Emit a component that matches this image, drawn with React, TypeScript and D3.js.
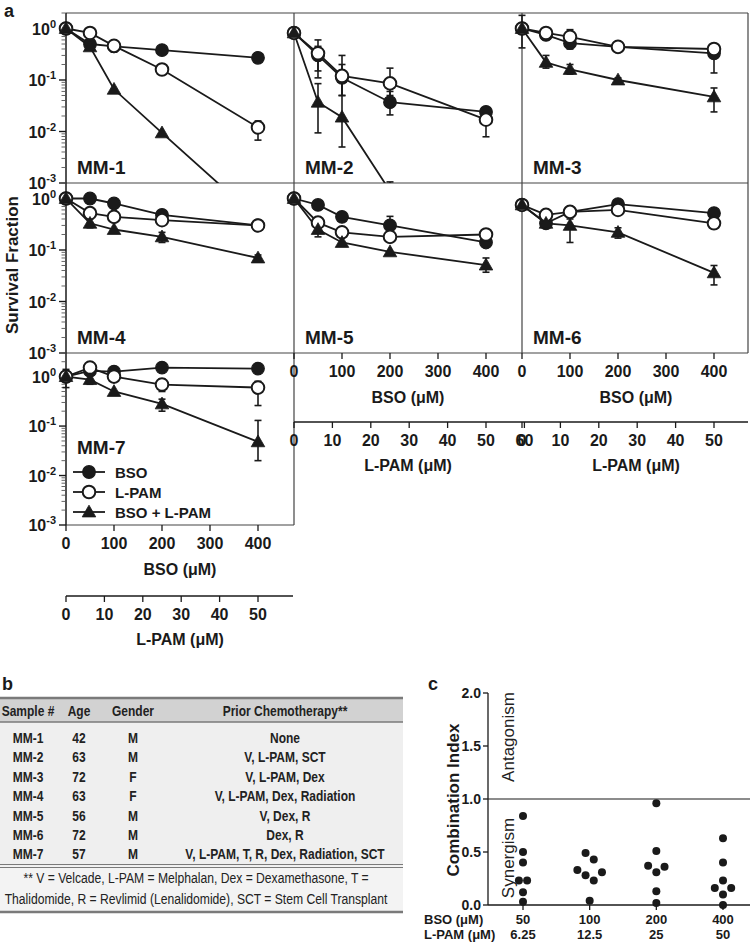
import React from "react";
import * as d3 from "d3";

// ---------- Panel a data ----------
const BSO_DOSES = [0, 50, 100, 200, 400];
const BSO_TICKS = [0, 100, 200, 300, 400];
const LPAM_TICKS_SHORT = [0, 10, 20, 30, 40, 50];
const LPAM_TICKS_LONG = [0, 10, 20, 30, 40, 50, 60];
const Y_DECADES = [0, -1, -2, -3];
const SAMPLE_IDS = ["MM-1", "MM-2", "MM-3", "MM-4", "MM-5", "MM-6", "MM-7"];
const LEGEND_LABELS = ["BSO", "L-PAM", "BSO + L-PAM"];

type Err = [number, number] | null;

const MM1_BSO = [1.0, 0.5, 0.45, 0.38, 0.27];
const MM1_LPAM = [1.0, 0.82, 0.46, 0.16, 0.012];
const MM1_COMBO = [1.0, 0.44, 0.066, 0.0094, 0.0002];
const MM1_BSO_ERR: Err[] = [null, null, null, [0.33, 0.43], [0.24, 0.3]];
const MM1_LPAM_ERR: Err[] = [null, null, [0.35, 0.52], [0.13, 0.19], [0.0068, 0.016]];
const MM1_COMBO_ERR: Err[] = [null, null, null, null, null];

const MM2_BSO = [0.82, 0.3, 0.11, 0.037, 0.024];
const MM2_LPAM = [0.82, 0.33, 0.12, 0.086, 0.017];
const MM2_COMBO = [0.82, 0.037, 0.019, 0.0007, null];
const MM2_BSO_ERR: Err[] = [null, [0.15, 0.45], [0.05, 0.2], [0.021, 0.06], [0.02, 0.028]];
const MM2_LPAM_ERR: Err[] = [null, [0.11, 0.6], [0.05, 0.3], [0.05, 0.17], [0.0079, 0.022]];
const MM2_COMBO_ERR: Err[] = [null, [0.0094, 0.085], [0.005, 0.1], [0.0002, 0.00105], null];

const MM3_BSO = [1.0, 0.75, 0.52, 0.44, 0.33];
const MM3_LPAM = [1.0, 0.82, 0.69, 0.44, 0.4];
const MM3_COMBO = [1.0, 0.22, 0.16, 0.1, 0.047];
const MM3_BSO_ERR: Err[] = [null, null, [0.4, 0.6], null, [0.137, 0.4]];
const MM3_LPAM_ERR: Err[] = [[0.42, 1.8], [0.6, 1.0], [0.45, 0.95], null, null];
const MM3_COMBO_ERR: Err[] = [null, [0.17, 0.3], [0.13, 0.2], [0.09, 0.11], [0.024, 0.07]];

const MM4_BSO = [1.0, 1.0, 0.8, 0.48, 0.3];
const MM4_LPAM = [1.0, 0.52, 0.44, 0.38, 0.3];
const MM4_COMBO = [1.0, 0.33, 0.25, 0.18, 0.07];
const MM4_BSO_ERR: Err[] = [null, null, null, null, null];
const MM4_LPAM_ERR: Err[] = [null, null, null, [0.32, 0.45], null];
const MM4_COMBO_ERR: Err[] = [null, [0.27, 0.4], null, [0.14, 0.22], [0.06, 0.08]];

const MM5_BSO = [1.0, 0.75, 0.44, 0.3, 0.14];
const MM5_LPAM = [1.0, 0.34, 0.22, 0.18, 0.2];
const MM5_COMBO = [1.0, 0.25, 0.14, 0.092, 0.051];
const MM5_BSO_ERR: Err[] = [null, null, null, [0.2, 0.45], null];
const MM5_LPAM_ERR: Err[] = [null, null, null, null, null];
const MM5_COMBO_ERR: Err[] = [null, [0.18, 0.3], null, null, [0.037, 0.07]];

const MM6_BSO = [0.75, 0.33, 0.55, 0.78, 0.52];
const MM6_LPAM = [0.75, 0.48, 0.55, 0.6, 0.33];
const MM6_COMBO = [0.75, 0.33, 0.3, 0.22, 0.036];
const MM6_BSO_ERR: Err[] = [null, null, null, null, null];
const MM6_LPAM_ERR: Err[] = [null, null, null, null, null];
const MM6_COMBO_ERR: Err[] = [null, null, [0.14, 0.4], [0.17, 0.27], [0.021, 0.05]];

const MM7_BSO = [1.0, 1.3, 1.26, 1.52, 1.45];
const MM7_LPAM = [1.0, 1.52, 1.0, 0.69, 0.6];
const MM7_COMBO = [1.0, 0.87, 0.5, 0.28, 0.048];
const MM7_BSO_ERR: Err[] = [null, null, null, null, null];
const MM7_LPAM_ERR: Err[] = [null, null, null, [0.5, 0.9], [0.26, 0.8]];
const MM7_COMBO_ERR: Err[] = [[0.6, 1.4], [0.7, 1.1], null, [0.2, 0.35], [0.02, 0.13]];

// ---------- Panel b data ----------
const TABLE_HEAD = ["Sample #", "Age", "Gender", "Prior Chemotherapy**"];
const AGES = [42, 63, 72, 63, 56, 72, 57];
const GENDERS = ["M", "M", "F", "F", "M", "M", "M"];
const CHEMO = [
  "None",
  "V, L-PAM, SCT",
  "V, L-PAM, Dex",
  "V, L-PAM, Dex, Radiation",
  "V, Dex, R",
  "Dex, R",
  "V, L-PAM, T, R, Dex, Radiation, SCT",
];
const FOOTNOTE = [
  "** V = Velcade, L-PAM = Melphalan, Dex = Dexamethasone, T =",
  "Thalidomide, R = Revlimid (Lenalidomide), SCT = Stem Cell Transplant",
];

// ---------- Panel c data ----------
const CI_CATEGORIES = ["50", "100", "200", "400"];
const CI_LPAM_LABELS = ["6.25", "12.5", "25", "50"];
const CI_50 = [0.84, 0.5, 0.4, 0.23, 0.23, 0.12, 0.03];
const CI_100 = [0.49, 0.43, 0.33, 0.31, 0.28, 0.23, 0.04];
const CI_200 = [0.96, 0.51, 0.37, 0.36, 0.31, 0.13, 0.02];
const CI_400 = [0.63, 0.4, 0.23, 0.16, 0.16, 0.1, 0.0];
const CI_TICKS = [0, 0.5, 1, 1.5, 2];

// ---------- layout ----------
const FONT = "'Liberation Sans', Arial, Helvetica, sans-serif";
const INK = "#1a1a1a";
const COL_X = [66, 294, 522];
const COL_W = 228;
const ROW_Y = [13, 183, 353];
const ROW_H = [170, 170, 172];
const ROW_TOP = [2, 2, 3];

const PANELS = [
  { id: 0, col: 0, row: 0, bso: MM1_BSO, lpam: MM1_LPAM, combo: MM1_COMBO, eb: MM1_BSO_ERR, el: MM1_LPAM_ERR, ec: MM1_COMBO_ERR },
  { id: 1, col: 1, row: 0, bso: MM2_BSO, lpam: MM2_LPAM, combo: MM2_COMBO, eb: MM2_BSO_ERR, el: MM2_LPAM_ERR, ec: MM2_COMBO_ERR },
  { id: 2, col: 2, row: 0, bso: MM3_BSO, lpam: MM3_LPAM, combo: MM3_COMBO, eb: MM3_BSO_ERR, el: MM3_LPAM_ERR, ec: MM3_COMBO_ERR },
  { id: 3, col: 0, row: 1, bso: MM4_BSO, lpam: MM4_LPAM, combo: MM4_COMBO, eb: MM4_BSO_ERR, el: MM4_LPAM_ERR, ec: MM4_COMBO_ERR },
  { id: 4, col: 1, row: 1, bso: MM5_BSO, lpam: MM5_LPAM, combo: MM5_COMBO, eb: MM5_BSO_ERR, el: MM5_LPAM_ERR, ec: MM5_COMBO_ERR },
  { id: 5, col: 2, row: 1, bso: MM6_BSO, lpam: MM6_LPAM, combo: MM6_COMBO, eb: MM6_BSO_ERR, el: MM6_LPAM_ERR, ec: MM6_COMBO_ERR },
  { id: 6, col: 0, row: 2, bso: MM7_BSO, lpam: MM7_LPAM, combo: MM7_COMBO, eb: MM7_BSO_ERR, el: MM7_LPAM_ERR, ec: MM7_COMBO_ERR },
];

const xScaleFor = (col: number) =>
  d3.scaleLinear().domain([0, 475]).range([COL_X[col], COL_X[col] + COL_W]);
const yScaleFor = (row: number) =>
  d3.scaleLog().domain([1e-3, ROW_TOP[row]]).range([ROW_Y[row] + ROW_H[row], ROW_Y[row]]);

const triPath = d3.symbol().type(d3.symbolTriangle).size(80)() as string;

function Marker({ kind, x, y }: { kind: number; x: number; y: number }) {
  if (kind === 0) return <circle cx={x} cy={y} r={6.3} fill={INK} stroke={INK} strokeWidth={1.2} />;
  if (kind === 1) return <circle cx={x} cy={y} r={6.3} fill="#fff" stroke={INK} strokeWidth={2} />;
  return <path d={triPath} transform={`translate(${x},${y + 1})`} fill={INK} stroke={INK} strokeWidth={0.8} />;
}

function NText({ x, y, bold, children }: { x: number; y: number; bold?: boolean; children: React.ReactNode }) {
  return (
    <text
      transform={`translate(${x},${y}) scale(${bold ? 0.8 : 0.81},1)`}
      textAnchor="middle"
      fontWeight={bold ? "bold" : "normal"}
      fontSize={15}
      fill="#222"
    >
      {children}
    </text>
  );
}

function Panel({ p }: { p: (typeof PANELS)[number] }) {
  const xs = xScaleFor(p.col);
  const ys = yScaleFor(p.row);
  const y0 = ROW_Y[p.row];
  const h = ROW_H[p.row];
  const x0 = COL_X[p.col];
  const series = [p.bso, p.lpam, p.combo];
  const errs = [p.eb, p.el, p.ec];
  const clipId = `clip-${p.id}`;
  const line = d3
    .line<number | null>()
    .defined((d) => d != null)
    .x((_, i) => xs(BSO_DOSES[i]))
    .y((d) => ys(d as number));
  const ymin = 1e-3;
  return (
    <g>
      <clipPath id={clipId}>
        <rect x={x0 - 14} y={y0 - 14} width={COL_W + 28} height={h + 14} />
      </clipPath>
      <g clipPath={`url(#${clipId})`}>
        {series.map((s, k) => (
          <path key={k} d={line(s) || ""} fill="none" stroke={INK} strokeWidth={1.8} />
        ))}
        {errs.map((e, k) =>
          e.map((b, i) => {
            if (!b) return null;
            const x = xs(BSO_DOSES[i]);
            const ya = ys(Math.max(b[0], 1e-4));
            const yb = ys(b[1]);
            return (
              <g key={`${k}-${i}`} stroke={INK} strokeWidth={1.6}>
                <line x1={x} x2={x} y1={ya} y2={yb} />
                {b[0] >= ymin && <line x1={x - 3.5} x2={x + 3.5} y1={ya} y2={ya} />}
                <line x1={x - 3.5} x2={x + 3.5} y1={yb} y2={yb} />
              </g>
            );
          })
        )}
        {series.map((s, k) =>
          s.map((v, i) =>
            v == null || v < ymin ? null : <Marker key={`${k}-${i}`} kind={k} x={xs(BSO_DOSES[i])} y={ys(v)} />
          )
        )}
      </g>
      <text
        x={x0 + 11}
        y={y0 + h - (p.row === 2 ? 71 : 9)}
        fontSize={19}
        fontWeight="bold"
        fill={INK}
      >
        {SAMPLE_IDS[p.id]}
      </text>
    </g>
  );
}

function YAxis({ row }: { row: number }) {
  const ys = yScaleFor(row);
  const x = COL_X[0];
  const minors: number[] = [];
  for (let e = -3; e <= 0; e++) {
    for (let m = 2; m <= 9; m++) {
      const v = m * Math.pow(10, e);
      if (v <= ROW_TOP[row]) minors.push(v);
    }
  }
  return (
    <g>
      {minors.map((v, i) => (
        <line key={i} x1={x - 4.5} x2={x} y1={ys(v)} y2={ys(v)} stroke="#555" strokeWidth={0.9} />
      ))}
      {Y_DECADES.map((e) => {
        const y = ys(Math.pow(10, e));
        return (
          <g key={e}>
            <line x1={x - 7} x2={x} y1={y} y2={y} stroke={INK} strokeWidth={1.4} />
            <text x={x - 10} y={y + 6} textAnchor="end" fontSize={16} fontWeight="bold" fill={INK}>
              10
              <tspan dy={-7} fontSize={11}>
                {e === 0 ? "0" : `-${-e}`}
              </tspan>
            </text>
          </g>
        );
      })}
    </g>
  );
}

function BsoAxis({ col, yb }: { col: number; yb: number }) {
  const xs = xScaleFor(col);
  return (
    <g fill={INK} fontWeight="bold">
      {BSO_TICKS.map((t) => (
        <g key={t}>
          <line x1={xs(t)} x2={xs(t)} y1={yb} y2={yb + 6} stroke={INK} strokeWidth={1.3} />
          <text x={xs(t)} y={yb + 24} textAnchor="middle" fontSize={16}>
            {t}
          </text>
        </g>
      ))}
      <text x={COL_X[col] + COL_W / 2} y={yb + 50} textAnchor="middle" fontSize={16}>
        BSO (μM)
      </text>
    </g>
  );
}

function LpamTicks({ col, yl, ticks }: { col: number; yl: number; ticks: number[] }) {
  const xs = xScaleFor(col);
  const lx = (v: number) => xs(v * 8);
  return (
    <g fill={INK} fontWeight="bold">
      {ticks.map((t) => (
        <g key={t}>
          <line x1={lx(t)} x2={lx(t)} y1={yl} y2={yl + 6} stroke={INK} strokeWidth={1.3} />
          <text x={lx(t)} y={yl + 24} textAnchor="middle" fontSize={16}>
            {t}
          </text>
        </g>
      ))}
      <text x={COL_X[col] + COL_W / 2} y={yl + 49} textAnchor="middle" fontSize={16}>
        L-PAM (μM)
      </text>
    </g>
  );
}

function swarmOffsets(values: number[], step: number, thr: number) {
  const idx = values.map((_, i) => i).sort((a, b) => values[b] - values[a]);
  const clusters: number[][] = [];
  let cur: number[] = [];
  idx.forEach((i, k) => {
    if (k > 0 && values[idx[k - 1]] - values[i] < thr) cur.push(i);
    else {
      if (cur.length) clusters.push(cur);
      cur = [i];
    }
  });
  if (cur.length) clusters.push(cur);
  const off = values.map(() => 0);
  clusters.forEach((c) => {
    const n = c.length;
    const slots = d3.range(n).map((j) => (j - (n - 1) / 2) * step);
    let lo = 0;
    let hi = n - 1;
    c.forEach((i, j) => {
      off[i] = j % 2 === 0 ? slots[lo++] : slots[hi--];
    });
  });
  return off;
}

export default function App() {
  const frameStroke = "#444";
  const rowBottom = (r: number) => ROW_Y[r] + ROW_H[r];

  // panel c scales
  const ciX = d3.scalePoint<string>().domain(CI_CATEGORIES).range([523, 723]);
  const ciY = d3.scaleLinear().domain([0, 2]).range([905, 693]);
  const ciGroups = [CI_50, CI_100, CI_200, CI_400];
  const ciLeft = 488;
  const ciRight = 750;

  // table layout
  const tX0 = 0;
  const tX1 = 403;
  const colCenters = [28, 79, 133, 285];
  const tTop = 698;
  const headBottom = 722;
  const rowStep = 19.4;
  const firstRow = 738;
  const bodyBottom = 866;
  const tBottom = 912;

  return (
    <svg
      width={750}
      height={947}
      style={{ position: "absolute", left: 0, top: 0, background: "#fff" }}
      fontFamily={FONT}
    >
      <rect x={0} y={0} width={750} height={947} fill="#fff" />

      {/* ===== Panel a ===== */}
      <text x={4} y={17} fontSize={18} fontWeight="bold" fill={INK}>a</text>

      <g stroke={frameStroke} strokeWidth={1.2} fill="none">
        <line x1={COL_X[0]} x2={748} y1={ROW_Y[0]} y2={ROW_Y[0]} />
        <line x1={COL_X[0]} x2={748} y1={ROW_Y[1]} y2={ROW_Y[1]} />
        <line x1={COL_X[0]} x2={748} y1={ROW_Y[2]} y2={ROW_Y[2]} />
        <line x1={COL_X[0]} x2={COL_X[1]} y1={rowBottom(2)} y2={rowBottom(2)} />
        <line x1={COL_X[1]} x2={COL_X[1]} y1={ROW_Y[0]} y2={rowBottom(2)} />
        <line x1={COL_X[2]} x2={COL_X[2]} y1={ROW_Y[0]} y2={rowBottom(1)} />
        <line x1={748} x2={748} y1={ROW_Y[0]} y2={rowBottom(1)} />
      </g>
      <line x1={COL_X[0]} x2={COL_X[0]} y1={ROW_Y[0]} y2={rowBottom(2)} stroke={INK} strokeWidth={1.5} />

      {[0, 1, 2].map((r) => (
        <YAxis key={r} row={r} />
      ))}

      {PANELS.map((p) => (
        <Panel key={p.id} p={p} />
      ))}

      {LEGEND_LABELS.map((lab, k) => {
        const y = 472 + k * 20;
        return (
          <g key={lab}>
            <line x1={73} x2={105} y1={y} y2={y} stroke={INK} strokeWidth={1.8} />
            <Marker kind={k} x={89} y={y} />
            <text x={115} y={y + 5.5} fontSize={15} fontWeight="bold" fill={INK}>
              {lab}
            </text>
          </g>
        );
      })}

      <text
        transform={`translate(18, ${265}) rotate(-90)`}
        textAnchor="middle"
        fontSize={17}
        fontWeight="bold"
        fill={INK}
      >
        Survival Fraction
      </text>

      <BsoAxis col={0} yb={rowBottom(2)} />
      <BsoAxis col={1} yb={rowBottom(1)} />
      <BsoAxis col={2} yb={rowBottom(1)} />

      <line x1={COL_X[0]} x2={COL_X[1] - 1} y1={rowBottom(2) + 71} y2={rowBottom(2) + 71} stroke={INK} strokeWidth={1.3} />
      <LpamTicks col={0} yl={rowBottom(2) + 71} ticks={LPAM_TICKS_SHORT} />
      <line x1={COL_X[1]} x2={748} y1={rowBottom(1) + 69} y2={rowBottom(1) + 69} stroke={INK} strokeWidth={1.3} />
      <LpamTicks col={1} yl={rowBottom(1) + 69} ticks={LPAM_TICKS_LONG} />
      <LpamTicks col={2} yl={rowBottom(1) + 69} ticks={LPAM_TICKS_SHORT} />

      {/* ===== Panel b ===== */}
      <text x={2} y={690} fontSize={18} fontWeight="bold" fill={INK}>b</text>
      <rect x={tX0} y={tTop} width={tX1 - tX0} height={headBottom - tTop} fill="#d2d2d2" />
      <rect x={tX0} y={headBottom} width={tX1 - tX0} height={bodyBottom - headBottom} fill="#efefef" />
      <rect x={tX0} y={bodyBottom} width={tX1 - tX0} height={tBottom - bodyBottom} fill="#f3f3f3" />
      <g stroke="#7a7a7a">
        <line x1={tX0} x2={tX1} y1={tTop} y2={tTop} strokeWidth={2.5} />
        <line x1={tX0} x2={tX1} y1={headBottom} y2={headBottom} strokeWidth={1.5} />
        <line x1={tX0} x2={tX1} y1={bodyBottom - 1.5} y2={bodyBottom - 1.5} strokeWidth={1.2} />
        <line x1={tX0} x2={tX1} y1={bodyBottom + 1.5} y2={bodyBottom + 1.5} strokeWidth={1.2} />
        <line x1={tX0} x2={tX1} y1={tBottom} y2={tBottom} strokeWidth={2.5} />
      </g>
      {TABLE_HEAD.map((h, i) => (
        <NText key={h} x={colCenters[i]} y={716} bold>
          {h}
        </NText>
      ))}
      {SAMPLE_IDS.map((s, i) => {
        const y = firstRow + i * rowStep + 5;
        return (
          <g key={s}>
            <NText x={colCenters[0]} y={y} bold>{s}</NText>
            <NText x={colCenters[1]} y={y} bold>{AGES[i]}</NText>
            <NText x={colCenters[2]} y={y} bold>{GENDERS[i]}</NText>
            <NText x={colCenters[3]} y={y} bold>{CHEMO[i]}</NText>
          </g>
        );
      })}
      {FOOTNOTE.map((f, i) => (
        <NText key={i} x={196} y={883 + i * 21}>
          {f}
        </NText>
      ))}

      {/* ===== Panel c ===== */}
      <text x={428} y={690} fontSize={18} fontWeight="bold" fill={INK}>c</text>
      <line x1={ciLeft} x2={ciLeft} y1={ciY(2)} y2={ciY(0)} stroke={INK} strokeWidth={1.3} />
      <line x1={ciLeft} x2={ciRight} y1={ciY(0)} y2={ciY(0)} stroke={INK} strokeWidth={1.3} />
      <line x1={ciLeft} x2={ciRight} y1={ciY(1)} y2={ciY(1)} stroke={INK} strokeWidth={1.2} />
      {CI_TICKS.map((t) => (
        <g key={t}>
          <line x1={ciLeft - 5} x2={ciLeft} y1={ciY(t)} y2={ciY(t)} stroke={INK} strokeWidth={1.3} />
          <text x={ciLeft - 7} y={ciY(t) + 4.5} textAnchor="end" fontSize={14} fontWeight="bold" fill={INK}>
            {d3.format(".1f")(t)}
          </text>
        </g>
      ))}
      {CI_CATEGORIES.map((c, i) => (
        <g key={c} fontWeight="bold" fill={INK} fontSize={13} textAnchor="middle">
          <line x1={ciX(c)!} x2={ciX(c)!} y1={ciY(0)} y2={ciY(0) + 5} stroke={INK} strokeWidth={1.3} />
          <text x={ciX(c)!} y={924}>{c}</text>
          <text x={ciX(c)!} y={939}>{CI_LPAM_LABELS[i]}</text>
        </g>
      ))}
      <text x={424} y={924} fontSize={13} fontWeight="bold" fill={INK}>BSO (μM)</text>
      <text x={424} y={939} fontSize={13} fontWeight="bold" fill={INK}>L-PAM (μM)</text>
      {ciGroups.map((g, gi) => {
        const off = swarmOffsets(g, 8.2, 0.065);
        return g.map((v, i) => (
          <circle key={`${gi}-${i}`} cx={ciX(CI_CATEGORIES[gi])! + off[i]} cy={ciY(v)} r={4} fill={INK} />
        ));
      })}
      <text
        transform={`translate(459, 800) rotate(-90)`}
        textAnchor="middle"
        fontSize={17}
        fontWeight="bold"
        fill={INK}
      >
        Combination Index
      </text>
      <text transform={`translate(514, 737) rotate(-90)`} textAnchor="middle" fontSize={17} fill="#222">
        Antagonism
      </text>
      <text transform={`translate(514, 858) rotate(-90)`} textAnchor="middle" fontSize={17} fill="#222">
        Synergism
      </text>
    </svg>
  );
}
